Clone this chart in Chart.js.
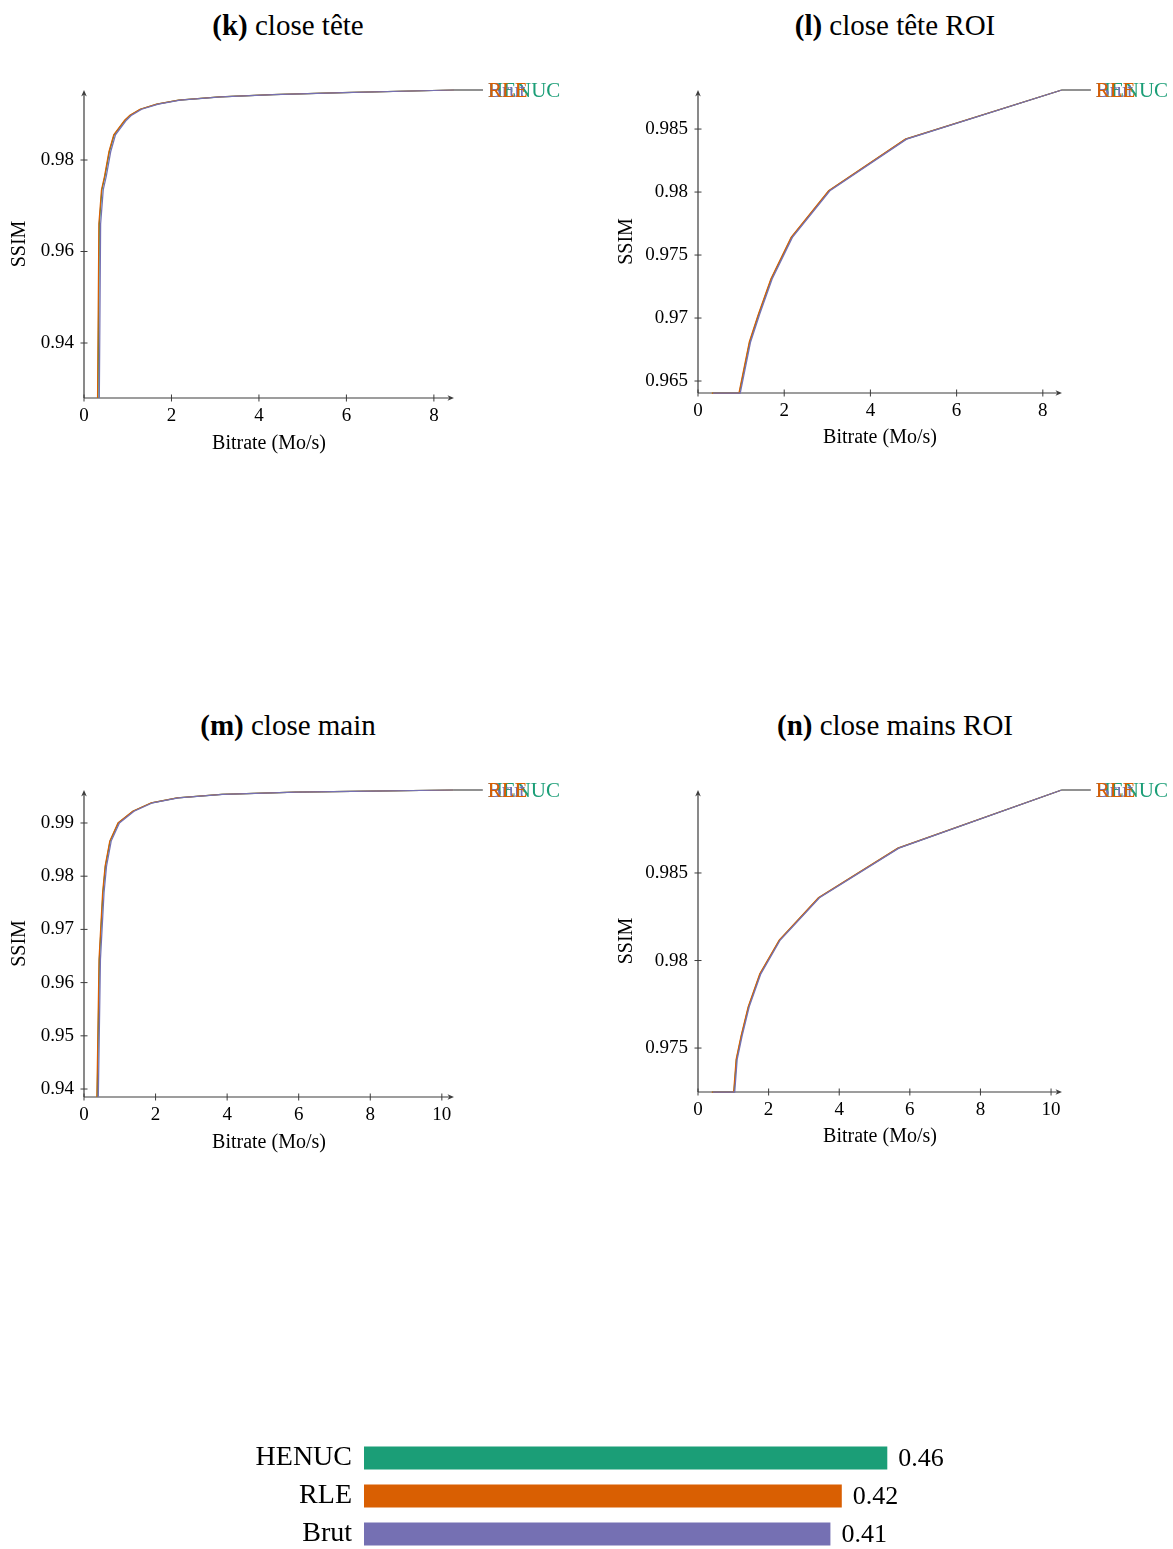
<!DOCTYPE html>
<html lang="fr">
<head>
<meta charset="utf-8">
<title>SSIM en fonction du débit</title>
<script src="https://cdn.jsdelivr.net/npm/chart.js@4.4.1/dist/chart.umd.min.js"></script>
<style>
  html, body { margin: 0; padding: 0; background: #fff; }
  body {
    width: 1173px; height: 1549px; overflow: hidden; position: relative;
    font-family: "Liberation Serif", "DejaVu Serif", serif; color: #000;
  }
  canvas { position: absolute; }
  .title {
    position: absolute; width: 420px; text-align: center;
    font-size: 29px; line-height: 29px; white-space: nowrap;
  }
</style>
</head>
<body>
<div class="title" style="left:78px; top:11px"><b>(k)</b> close tête</div>
<div class="title" style="left:685px; top:11px"><b>(l)</b> close tête ROI</div>
<div class="title" style="left:78px; top:711px"><b>(m)</b> close main</div>
<div class="title" style="left:685px; top:711px"><b>(n)</b> close mains ROI</div>

<canvas id="chartK" width="600" height="420" style="left:0px; top:60px"></canvas>
<canvas id="chartL" width="573" height="420" style="left:600px; top:60px"></canvas>
<canvas id="chartM" width="600" height="420" style="left:0px; top:760px"></canvas>
<canvas id="chartN" width="573" height="420" style="left:600px; top:760px"></canvas>
<canvas id="chartBar" width="800" height="174" style="left:200px; top:1409px"></canvas>

<script>
// ---- Series names ----
const seriesNames = ['HENUC', 'RLE', 'Brut'];

// ---- (k) close tête : SSIM vs bitrate (Mo/s) ----
const kSSIM  = [0.928, 0.966, 0.9735, 0.9765, 0.9818, 0.9855, 0.9887, 0.9898, 0.9911, 0.9922, 0.9931, 0.9938, 0.9943, 0.9947, 0.9953];
const kHENUC = [0.32, 0.35, 0.41, 0.48, 0.58, 0.69, 0.94, 1.06, 1.29, 1.67, 2.17, 3.11, 4.31, 5.91, 8.46];
const kRLE   = [0.31, 0.34, 0.40, 0.47, 0.57, 0.68, 0.93, 1.05, 1.28, 1.66, 2.16, 3.10, 4.30, 5.90, 8.46];
const kBrut  = [0.35, 0.38, 0.44, 0.51, 0.61, 0.72, 0.97, 1.09, 1.32, 1.70, 2.20, 3.14, 4.34, 5.94, 8.46];
const kXTicks = [0, 2, 4, 6, 8];
const kYTicks = [0.94, 0.96, 0.98];

// ---- (l) close tête ROI ----
const lSSIM  = [0.96405, 0.96405, 0.9681, 0.9703, 0.9731, 0.9764, 0.9801, 0.9842, 0.9881];
const lHENUC = [0.33, 0.96, 1.20, 1.41, 1.70, 2.17, 3.04, 4.82, 8.44];
const lRLE   = [0.32, 0.95, 1.19, 1.40, 1.69, 2.16, 3.03, 4.81, 8.44];
const lBrut  = [0.35, 0.98, 1.22, 1.43, 1.72, 2.19, 3.06, 4.84, 8.44];
const lXTicks = [0, 2, 4, 6, 8];
const lYTicks = [0.965, 0.97, 0.975, 0.98, 0.985];

// ---- (m) close main ----
const mSSIM  = [0.9385, 0.9644, 0.9769, 0.9819, 0.9866, 0.9900, 0.9922, 0.9938, 0.9947, 0.9954, 0.9958, 0.9960, 0.9962];
const mHENUC = [0.37, 0.43, 0.53, 0.60, 0.73, 0.96, 1.37, 1.89, 2.61, 3.85, 5.91, 7.99, 10.33];
const mRLE   = [0.36, 0.42, 0.52, 0.59, 0.72, 0.95, 1.36, 1.88, 2.60, 3.84, 5.90, 7.98, 10.33];
const mBrut  = [0.40, 0.46, 0.56, 0.63, 0.76, 0.99, 1.40, 1.92, 2.64, 3.88, 5.94, 8.02, 10.33];
const mXTicks = [0, 2, 4, 6, 8, 10];
const mYTicks = [0.94, 0.95, 0.96, 0.97, 0.98, 0.99];

// ---- (n) close mains ROI ----
const nSSIM  = [0.97249, 0.97249, 0.97436, 0.9757, 0.97735, 0.97924, 0.98117, 0.98358, 0.98642, 0.98974];
const nHENUC = [0.40, 1.02, 1.09, 1.23, 1.43, 1.76, 2.31, 3.42, 5.67, 10.30];
const nRLE   = [0.39, 1.01, 1.08, 1.22, 1.42, 1.75, 2.30, 3.41, 5.66, 10.30];
const nBrut  = [0.42, 1.04, 1.11, 1.25, 1.45, 1.78, 2.33, 3.44, 5.69, 10.30];
const nXTicks = [0, 2, 4, 6, 8, 10];
const nYTicks = [0.975, 0.98, 0.985];

// ---- Summary bars ----
const barLabels = ['HENUC', 'RLE', 'Brut'];
const barValues = [0.46, 0.42, 0.41];

// ---- Styles ----
const FONT = '"Liberation Serif", "DejaVu Serif", serif';
const seriesColors = { HENUC: '#1b9e77', RLE: '#d95f02', Brut: '#7570b3' };
const seriesOrder  = { HENUC: 3, RLE: 2, Brut: 1 };   // Brut drawn on top
const AXIS_COLOR = '#3c3c3c';
const PIN_COLOR = '#8a8a8a';
const TICK_SIZE = 19;
const AXIS_TITLE_SIZE = 20;

Chart.defaults.font.family = FONT;
Chart.defaults.color = '#000';

function drawArrow(ctx, x, y, angle) {
  ctx.save();
  ctx.translate(x, y);
  ctx.rotate(angle);
  ctx.beginPath();
  ctx.moveTo(0, 0);
  ctx.lineTo(-6.5, -2.8);
  ctx.lineTo(-4.6, 0);
  ctx.lineTo(-6.5, 2.8);
  ctx.closePath();
  ctx.fill();
  ctx.restore();
}

// Left/bottom axis lines with arrow heads and ticks crossing the axis
const axisLines = {
  id: 'axisLines',
  beforeDatasetsDraw(chart) {
    const { ctx, chartArea: a, scales: { x, y } } = chart;
    ctx.save();
    ctx.strokeStyle = AXIS_COLOR;
    ctx.fillStyle = AXIS_COLOR;
    ctx.lineWidth = 1.2;
    ctx.beginPath();
    ctx.moveTo(a.left, a.bottom);
    ctx.lineTo(a.right - 4, a.bottom);
    ctx.moveTo(a.left, a.bottom);
    ctx.lineTo(a.left, a.top + 4);
    ctx.stroke();
    drawArrow(ctx, a.right, a.bottom, 0);
    drawArrow(ctx, a.left, a.top, -Math.PI / 2);
    ctx.lineWidth = 1;
    ctx.beginPath();
    x.ticks.forEach(t => {
      const px = x.getPixelForValue(t.value);
      ctx.moveTo(px, a.bottom - 3.5);
      ctx.lineTo(px, a.bottom + 3.5);
    });
    y.ticks.forEach(t => {
      const py = y.getPixelForValue(t.value);
      ctx.moveTo(a.left - 3.5, py);
      ctx.lineTo(a.left + 3.5, py);
    });
    ctx.stroke();
    ctx.restore();
  }
};

// Pin line and name at the end of each curve
const endLabels = {
  id: 'endLabels',
  afterDatasetsDraw(chart) {
    const { ctx } = chart;
    ctx.save();
    ctx.font = '21px ' + FONT;
    ctx.textAlign = 'left';
    ctx.textBaseline = 'middle';
    ['HENUC', 'Brut', 'RLE'].forEach(name => {
      const idx = chart.data.datasets.findIndex(d => d.label === name);
      const pts = chart.getDatasetMeta(idx).data;
      const last = pts[pts.length - 1];
      ctx.strokeStyle = PIN_COLOR;
      ctx.lineWidth = 1.2;
      ctx.beginPath();
      ctx.moveTo(last.x, last.y);
      ctx.lineTo(last.x + 29, last.y);
      ctx.stroke();
      ctx.fillStyle = seriesColors[name];
      ctx.fillText(name, last.x + 34, last.y + 1);
    });
    ctx.restore();
  }
};

function lineChart(id, spec) {
  const canvas = document.getElementById(id);
  const box = { x: parseFloat(canvas.style.left), y: parseFloat(canvas.style.top), w: canvas.width, h: canvas.height };
  const a = spec.area;
  const yWidth = a.l - box.x;
  const xHeight = 60;
  const padTop = a.t - box.y;
  const padRight = box.x + box.w - a.r;
  const padBottom = box.y + box.h - a.b - xHeight;
  const titleLH = AXIS_TITLE_SIZE * 1.2;

  const datasets = seriesNames.map(name => ({
    label: name,
    data: spec.series[name].map((bx, i) => ({ x: bx, y: spec.ssim[i] })),
    borderColor: seriesColors[name],
    borderWidth: 1.25,
    pointRadius: 0,
    showLine: true,
    tension: 0,
    clip: false,
    order: seriesOrder[name]
  }));

  return new Chart(canvas, {
    type: 'scatter',
    data: { datasets },
    options: {
      responsive: false,
      animation: false,
      events: [],
      devicePixelRatio: 1,
      layout: { padding: { left: 0, top: padTop, right: padRight, bottom: padBottom } },
      plugins: { legend: { display: false }, tooltip: { enabled: false } },
      scales: {
        x: {
          type: 'linear',
          min: 0, max: spec.xMax,
          grid: { display: false, drawTicks: false },
          border: { display: false },
          ticks: { padding: 7, font: { size: TICK_SIZE }, color: '#000', callback: v => String(v) },
          afterBuildTicks: s => { s.ticks = spec.xTicks.map(v => ({ value: v })); },
          afterFit: s => { s.height = xHeight; },
          title: {
            display: true, text: 'Bitrate (Mo/s)', color: '#000',
            font: { size: AXIS_TITLE_SIZE },
            padding: { top: 0, bottom: a.b + xHeight - spec.xTitleY - titleLH / 2 }
          }
        },
        y: {
          type: 'linear',
          min: spec.yMin, max: spec.yMax,
          grid: { display: false, drawTicks: false },
          border: { display: false },
          ticks: { padding: 10, font: { size: TICK_SIZE }, color: '#000', callback: v => String(Number(v.toFixed(4))) },
          afterBuildTicks: s => { s.ticks = spec.yTicks.map(v => ({ value: v })); },
          afterFit: s => { s.width = yWidth; },
          title: {
            display: true, text: 'SSIM', color: '#000',
            font: { size: AXIS_TITLE_SIZE },
            padding: { top: spec.ssimX - box.x - titleLH / 2, bottom: 0 }
          }
        }
      }
    },
    plugins: [axisLines, endLabels]
  });
}

lineChart('chartK', {
  area: { l: 84, t: 90, r: 454, b: 398 },
  xMax: 8.46, yMin: 0.92798, yMax: 0.9953,
  xTicks: kXTicks, yTicks: kYTicks,
  ssim: kSSIM, series: { HENUC: kHENUC, RLE: kRLE, Brut: kBrut },
  ssimX: 20, xTitleY: 444
});

lineChart('chartL', {
  area: { l: 698, t: 90, r: 1062, b: 393 },
  xMax: 8.445, yMin: 0.96405, yMax: 0.9881,
  xTicks: lXTicks, yTicks: lYTicks,
  ssim: lSSIM, series: { HENUC: lHENUC, RLE: lRLE, Brut: lBrut },
  ssimX: 627, xTitleY: 438
});

lineChart('chartM', {
  area: { l: 84, t: 790, r: 454, b: 1097 },
  xMax: 10.34, yMin: 0.9385, yMax: 0.9962,
  xTicks: mXTicks, yTicks: mYTicks,
  ssim: mSSIM, series: { HENUC: mHENUC, RLE: mRLE, Brut: mBrut },
  ssimX: 20, xTitleY: 1143
});

lineChart('chartN', {
  area: { l: 698, t: 790, r: 1062, b: 1092 },
  xMax: 10.31, yMin: 0.97249, yMax: 0.98974,
  xTicks: nXTicks, yTicks: nYTicks,
  ssim: nSSIM, series: { HENUC: nHENUC, RLE: nRLE, Brut: nBrut },
  ssimX: 627, xTitleY: 1137
});

// Value printed to the right of each bar
const barValueLabels = {
  id: 'barValueLabels',
  afterDatasetsDraw(chart) {
    const { ctx } = chart;
    const meta = chart.getDatasetMeta(0);
    ctx.save();
    ctx.font = '26px ' + FONT;
    ctx.fillStyle = '#000';
    ctx.textAlign = 'left';
    ctx.textBaseline = 'middle';
    meta.data.forEach((bar, i) => {
      ctx.fillText(barValues[i].toFixed(2), bar.x + 11, bar.y + 1);
    });
    ctx.restore();
  }
};

new Chart(document.getElementById('chartBar'), {
  type: 'bar',
  data: {
    labels: barLabels,
    datasets: [{
      data: barValues,
      backgroundColor: barLabels.map(n => seriesColors[n]),
      borderWidth: 0,
      barPercentage: 0.6,
      categoryPercentage: 1
    }]
  },
  options: {
    indexAxis: 'y',
    responsive: false,
    animation: false,
    events: [],
    devicePixelRatio: 1,
    layout: { padding: { left: 0, top: 30, right: 67.2, bottom: 30 } },
    plugins: { legend: { display: false }, tooltip: { enabled: false } },
    scales: {
      x: { display: false, min: 0, max: 0.5 },
      y: {
        grid: { display: false, drawTicks: false },
        border: { display: false },
        ticks: { padding: 12, color: '#000', font: { size: 28 } },
        afterFit: s => { s.width = 164; }
      }
    }
  },
  plugins: [barValueLabels]
});
</script>
</body>
</html>
